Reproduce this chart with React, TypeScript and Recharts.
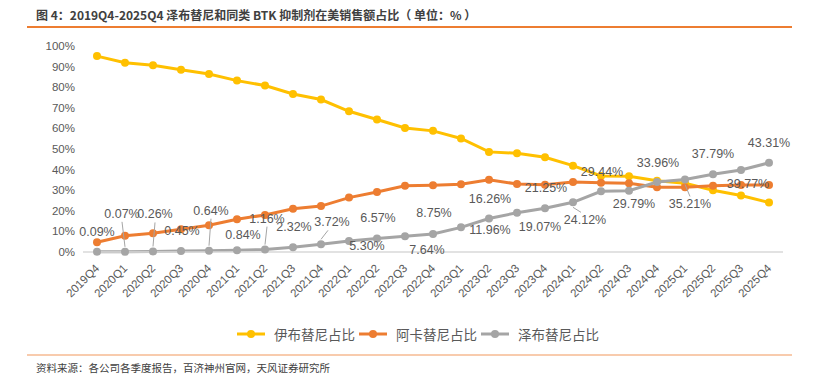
import { LineChart, Line, XAxis, YAxis, LabelList } from 'recharts'

const quarters = [
	'2019Q4', '2020Q1', '2020Q2', '2020Q3', '2020Q4',
	'2021Q1', '2021Q2', '2021Q3', '2021Q4',
	'2022Q1', '2022Q2', '2022Q3', '2022Q4',
	'2023Q1', '2023Q2', '2023Q3', '2023Q4',
	'2024Q1', '2024Q2', '2024Q3', '2024Q4',
	'2025Q1', '2025Q2', '2025Q3', '2025Q4',
]

// 伊布替尼
const ibrutinib = [
	95.1, 91.9, 90.6, 88.5, 86.4, 83.2, 80.8, 76.7, 74.0, 68.3, 64.3, 60.2, 58.8,
	55.1, 48.6, 47.9, 46.0, 41.9, 36.9, 36.8, 34.6, 33.4, 30.0, 27.4, 24.0,
]
// 阿卡替尼
const acalabrutinib = [
	4.7, 7.9, 9.1, 11.0, 13.0, 15.9, 18.0, 21.0, 22.3, 26.4, 29.1, 32.2, 32.4,
	32.9, 35.1, 33.0, 32.7, 34.0, 33.6, 33.4, 31.4, 31.4, 32.2, 32.5, 32.5,
]
// 泽布替尼
const zanubrutinib = [
	0.09, 0.07, 0.26, 0.45, 0.64, 0.84, 1.16, 2.32, 3.72, 5.3, 6.57, 7.64, 8.75,
	11.96, 16.26, 19.07, 21.25, 24.12, 29.44, 29.79, 33.96, 35.21, 37.79, 39.77,
	43.31,
]

const yTicks = [0, 10, 20, 30, 40, 50, 60, 70, 80, 90, 100]

const data = quarters.map((q, i) => ({
	q,
	ibr: ibrutinib[i],
	aca: acalabrutinib[i],
	zan: zanubrutinib[i],
}))

const YELLOW = '#FFC000'
const ORANGE = '#ED7D31'
const GRAY = '#A5A5A5'
const TXT = '#595959'
const CJK = '"Noto Sans CJK SC", "Liberation Sans", sans-serif'

// label offsets from each point: dx, dy, leader line
const labelPos: [number, number, boolean][] = [
	[0, -20, false], [-3, -38, true], [2, -37, true], [1, -20, false],
	[2, -40, true], [6, -15, false], [2, -31, true], [1, -20, false],
	[11, -22, true], [18, 5, false], [1, -20, false], [22, 14, false],
	[1, -21, false], [29, 3, false], [1, -20, false], [23, 14, false],
	[1, -20, false], [12, 18, true], [1, -19, false], [5, 13, false],
	[1, -19, false], [5, 25, true], [0, -20, false], [7, 14, false],
	[0, -20, false],
]

const ZanLabel = (props: any) => {
	const { x, y, index, value } = props
	const [dx, dy, leader] = labelPos[index] || [0, -20, false]
	const lx = x + dx
	const ly = y + dy
	return (
		<g>
			{leader && (
				<line
					x1={x}
					y1={dy < 0 ? y - 5 : y + 5}
					x2={lx + (dx > 8 ? -4 : 0)}
					y2={dy < 0 ? ly + 8 : ly - 8}
					stroke={GRAY}
					strokeWidth={1}
				/>
			)}
			<text
				x={lx}
				y={ly}
				textAnchor="middle"
				dominantBaseline="central"
				fill={TXT}
				fontSize={12.5}
				fontFamily="Liberation Sans, sans-serif">
				{`${Number(value).toFixed(2)}%`}
			</text>
		</g>
	)
}

const XTick = (props: any) => {
	const { x, y, payload } = props
	const px = x + 3
	const py = y + 9
	return (
		<text
			x={px}
			y={py}
			transform={`rotate(-45 ${px} ${py})`}
			textAnchor="end"
			fill={TXT}
			fontSize={11.5}
			fontFamily="Liberation Sans, sans-serif">
			{payload.value}
		</text>
	)
}

const legendItems = [
	{ name: '伊布替尼占比', color: YELLOW },
	{ name: '阿卡替尼占比', color: ORANGE },
	{ name: '泽布替尼占比', color: GRAY },
]

export default function App() {
	return (
		<div
			style={{
				position: 'absolute',
				left: 0,
				top: 0,
				width: 816,
				height: 389,
				background: '#fff',
				fontFamily: CJK,
			}}>
			<div
				style={{
					position: 'absolute',
					left: 36,
					top: 6,
					fontSize: 12,
					fontWeight: 'bold',
					color: '#404040',
					whiteSpace: 'nowrap',
				}}>
				图 4：2019Q4-2025Q4 泽布替尼和同类 BTK 抑制剂在美销售额占比（ 单位：% ）
			</div>
			<div
				style={{
					position: 'absolute',
					left: 27,
					top: 26,
					width: 765,
					height: 1.5,
					background: '#ED7D31',
				}}
			/>
			<LineChart
				width={816}
				height={389}
				data={data}
				margin={{ top: 46, right: 33, bottom: 107, left: 23 }}>
				<XAxis
					dataKey="q"
					interval={0}
					padding={{ left: 14, right: 14 }}
					axisLine={{ stroke: '#D9D9D9', strokeWidth: 1.5 }}
					tickLine={false}
					tick={<XTick />}
					height={30}
				/>
				<YAxis
					width={60}
					domain={[0, 100]}
					ticks={yTicks}
					interval={0}
					axisLine={false}
					tickLine={false}
					tickFormatter={(v: number) => `${v}%`}
					tick={{ fill: TXT, fontSize: 11.5, fontFamily: 'Liberation Sans, sans-serif' }}
				/>
				<Line
					dataKey="ibr"
					type="linear"
					stroke={YELLOW}
					strokeWidth={3}
					dot={{ r: 4, fill: YELLOW, stroke: YELLOW, strokeWidth: 0 }}
					isAnimationActive={false}
				/>
				<Line
					dataKey="aca"
					type="linear"
					stroke={ORANGE}
					strokeWidth={3}
					dot={{ r: 4, fill: ORANGE, stroke: ORANGE, strokeWidth: 0 }}
					isAnimationActive={false}
				/>
				<Line
					dataKey="zan"
					type="linear"
					stroke={GRAY}
					strokeWidth={3}
					dot={{ r: 4, fill: GRAY, stroke: GRAY, strokeWidth: 0 }}
					isAnimationActive={false}>
					<LabelList dataKey="zan" content={<ZanLabel />} />
				</Line>
			</LineChart>
			<div
				style={{
					position: 'absolute',
					left: 0,
					top: 324,
					width: 816,
					display: 'flex',
					justifyContent: 'center',
					paddingLeft: 24,
					boxSizing: 'border-box',
				}}>
				{legendItems.map((it) => (
					<div
						key={it.name}
						style={{ display: 'flex', alignItems: 'center', marginRight: 4 }}>
						<svg width={28} height={10} style={{ marginRight: 9 }}>
							<line x1={0} y1={5} x2={28} y2={5} stroke={it.color} strokeWidth={3} />
							<circle cx={14} cy={5} r={4} fill={it.color} />
						</svg>
						<span style={{ fontSize: 13.5, color: TXT, lineHeight: '20px' }}>
							{it.name}
						</span>
					</div>
				))}
			</div>
			<div
				style={{
					position: 'absolute',
					left: 27,
					top: 354,
					width: 765,
					height: 2,
					background: '#F8CBAD',
				}}
			/>
			<div
				style={{
					position: 'absolute',
					left: 36,
					top: 360,
					fontSize: 10.5,
					color: '#404040',
					whiteSpace: 'nowrap',
				}}>
				资料来源：各公司各季度报告，百济神州官网，天风证券研究所
			</div>
		</div>
	)
}
